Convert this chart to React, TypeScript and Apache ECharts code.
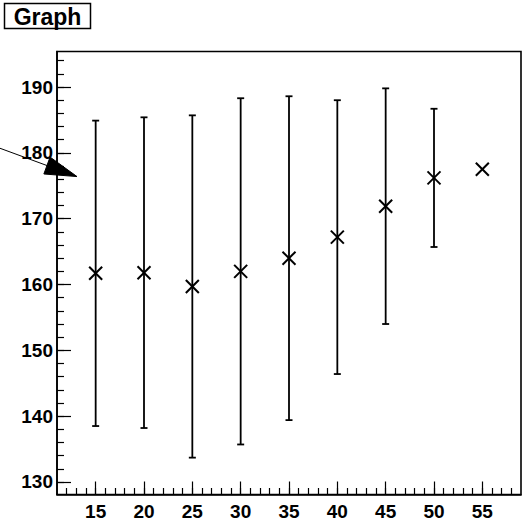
import React, { useEffect, useRef } from "react";
import * as echarts from "echarts";

const xValues = [15, 20, 25, 30, 35, 40, 45, 50, 55];
const yValues = [161.7, 161.8, 159.7, 162.0, 164.0, 167.2, 171.9, 176.2, 177.5];
const yErrors = [23.2, 23.6, 26.0, 26.3, 24.6, 20.8, 17.9, 10.5, 0];
const xTickLabels = [15, 20, 25, 30, 35, 40, 45, 50, 55];
const yTickLabels = [130, 140, 150, 160, 170, 180, 190];
const xMinorTicks = [12, 13, 14, 15, 16, 17, 18, 19, 20, 21, 22, 23, 24, 25, 26, 27, 28, 29, 30, 31, 32, 33, 34, 35, 36, 37, 38, 39, 40, 41, 42, 43, 44, 45, 46, 47, 48, 49, 50, 51, 52, 53, 54, 55, 56, 57, 58];
const yMinorTicks = [130, 132, 134, 136, 138, 140, 142, 144, 146, 148, 150, 152, 154, 156, 158, 160, 162, 164, 166, 168, 170, 172, 174, 176, 178, 180, 182, 184, 186, 188, 190, 192, 194];
const arrowStart = [5.1, 180.7];
const arrowEnd = [13.07, 176.4];
const title = "Graph";

const X_MIN = 11;
const X_MAX = 59;
const Y_MIN = 128.1;
const Y_MAX = 195.4;

const FONT = "'Liberation Sans', Arial, Helvetica, sans-serif";

export default function App() {
  const ref = useRef<HTMLDivElement>(null);

  useEffect(() => {
    if (!ref.current) return;
    const chart = echarts.init(ref.current, null, { renderer: "svg" });
    const data = xValues.map((x, i) => [x, yValues[i], yErrors[i]]);

    const labelStyle = {
      color: "#000",
      fontFamily: FONT,
      fontWeight: "bold" as const,
      fontSize: 19,
    };

    const option: any = {
      animation: false,
      backgroundColor: "#fff",
      grid: {
        left: 57,
        right: 10,
        top: 51.5,
        bottom: 30.5,
        show: true,
        borderColor: "#000",
        borderWidth: 1.6,
        backgroundColor: "transparent",
      },
      xAxis: [
        {
          type: "value",
          min: X_MIN,
          max: X_MAX,
          position: "bottom",
          axisLine: { show: true, lineStyle: { color: "#000", width: 1.6 } },
          axisTick: {
            show: true,
            inside: true,
            length: 13,
            customValues: xTickLabels,
            lineStyle: { color: "#000", width: 1.2 },
          },
          axisLabel: { ...labelStyle, margin: 7, customValues: xTickLabels },
          splitLine: { show: false },
        },
        {
          type: "value",
          min: X_MIN,
          max: X_MAX,
          position: "bottom",
          axisLine: { show: false },
          axisTick: {
            show: true,
            inside: true,
            length: 6.5,
            customValues: xMinorTicks,
            lineStyle: { color: "#000", width: 1.2 },
          },
          axisLabel: { show: false },
          splitLine: { show: false },
        },
      ],
      yAxis: [
        {
          type: "value",
          min: Y_MIN,
          max: Y_MAX,
          position: "left",
          axisLine: { show: true, lineStyle: { color: "#000", width: 1.6 } },
          axisTick: {
            show: true,
            inside: true,
            length: 14,
            customValues: yTickLabels,
            lineStyle: { color: "#000", width: 1.2 },
          },
          axisLabel: { ...labelStyle, margin: 4, customValues: yTickLabels },
          splitLine: { show: false },
        },
        {
          type: "value",
          min: Y_MIN,
          max: Y_MAX,
          position: "left",
          axisLine: { show: false },
          axisTick: {
            show: true,
            inside: true,
            length: 7,
            customValues: yMinorTicks,
            lineStyle: { color: "#000", width: 1.2 },
          },
          axisLabel: { show: false },
          splitLine: { show: false },
        },
      ],
      series: [
        {
          type: "custom",
          xAxisIndex: 0,
          yAxisIndex: 0,
          data,
          clip: false,
          renderItem: (params: any, api: any) => {
            const x = api.value(0);
            const y = api.value(1);
            const e = api.value(2);
            const c = api.coord([x, y]);
            const children: any[] = [];
            const stroke = { stroke: "#000", lineWidth: 1.8, fill: "none" };
            if (e > 0) {
              const top = api.coord([x, y + e]);
              const bot = api.coord([x, y - e]);
              children.push({
                type: "line",
                shape: { x1: c[0], y1: top[1], x2: c[0], y2: bot[1] },
                style: stroke,
              });
              children.push({
                type: "line",
                shape: { x1: c[0] - 3.5, y1: top[1], x2: c[0] + 3.5, y2: top[1] },
                style: stroke,
              });
              children.push({
                type: "line",
                shape: { x1: c[0] - 3.5, y1: bot[1], x2: c[0] + 3.5, y2: bot[1] },
                style: stroke,
              });
            }
            const h = 6.5;
            children.push({
              type: "line",
              shape: { x1: c[0] - h, y1: c[1] - h, x2: c[0] + h, y2: c[1] + h },
              style: { stroke: "#000", lineWidth: 2 },
            });
            children.push({
              type: "line",
              shape: { x1: c[0] - h, y1: c[1] + h, x2: c[0] + h, y2: c[1] - h },
              style: { stroke: "#000", lineWidth: 2 },
            });
            return { type: "group", children };
          },
        },
      ],
      graphic: [
        {
          type: "rect",
          shape: { x: 4.5, y: 3.5, width: 86, height: 25 },
          style: { fill: "#fff", stroke: "#000", lineWidth: 1.5 },
          z: 10,
        },
        {
          type: "text",
          x: 47.5,
          y: 16.5,
          style: {
            text: title,
            fill: "#000",
            font: `bold 23px ${FONT}`,
            align: "center",
            verticalAlign: "middle",
          },
          z: 11,
        },
      ],
    };

    chart.setOption(option);

    const p0 = chart.convertToPixel({ seriesIndex: 0 }, arrowStart) as number[];
    const p1 = chart.convertToPixel({ seriesIndex: 0 }, arrowEnd) as number[];
    const dx = p1[0] - p0[0];
    const dy = p1[1] - p0[1];
    const len = Math.sqrt(dx * dx + dy * dy);
    const ux = dx / len;
    const uy = dy / len;
    const headLen = 32;
    const headHalf = 9;
    const bx = p1[0] - ux * headLen;
    const by = p1[1] - uy * headLen;
    const a = [bx - uy * headHalf, by + ux * headHalf];
    const b = [bx + uy * headHalf, by - ux * headHalf];

    chart.setOption({
      graphic: [
        ...option.graphic,
        {
          type: "line",
          shape: { x1: p0[0], y1: p0[1], x2: bx, y2: by },
          style: { stroke: "#000", lineWidth: 1 },
          z: 20,
        },
        {
          type: "polygon",
          shape: { points: [p1, a, b] },
          style: { fill: "#000", stroke: "#000", lineWidth: 1 },
          z: 20,
        },
      ],
    });

    return () => chart.dispose();
  }, []);

  return (
    <div
      ref={ref}
      style={{ position: "fixed", left: 0, top: 0, width: 531, height: 525 }}
    />
  );
}
